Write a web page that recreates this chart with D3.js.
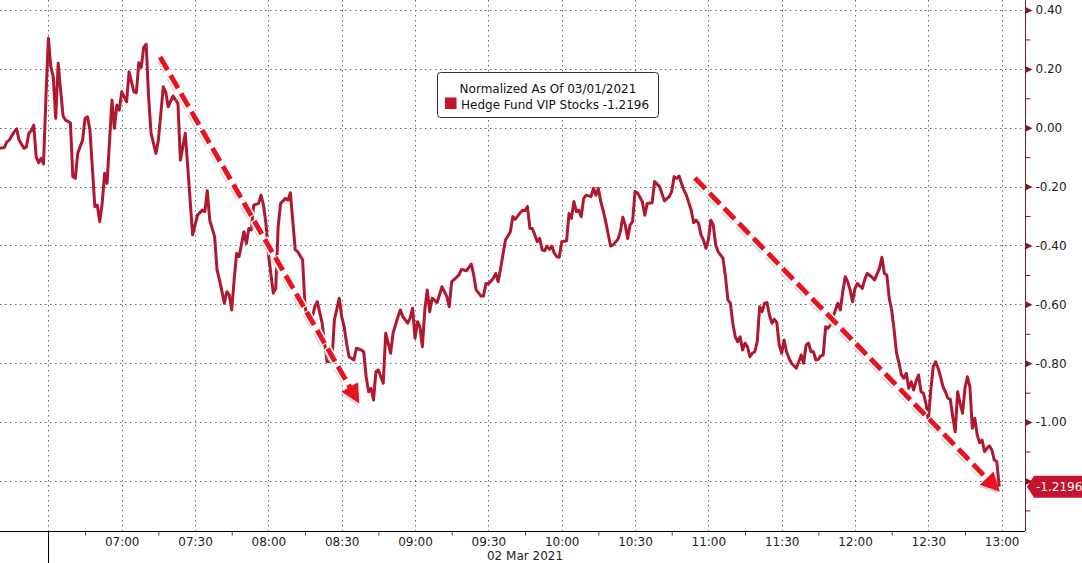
<!DOCTYPE html>
<html><head><meta charset="utf-8">
<script src="https://cdn.jsdelivr.net/npm/d3@7"></script>
<style>
body{margin:0;background:#fff}
svg{display:block;font-family:"DejaVu Sans",sans-serif}
</style>
</head><body>
<svg id="c" width="1082" height="563"></svg>
<script>
// ---- data (02 Mar 2021, intraday, normalized as of 03/01/2021) ----
const times = [
"06:10","06:12","06:13","06:14","06:16","06:17","06:18","06:20","06:21","06:22","06:23","06:24","06:25","06:26","06:27","06:28","06:29","06:30","06:31","06:32","06:33","06:34","06:35","06:36","06:37","06:39","06:40","06:41","06:42","06:44","06:45","06:46","06:47","06:49","06:50","06:51","06:52","06:53","06:54","06:56","06:57","06:58","06:59",
"07:00","07:02","07:03","07:05","07:06","07:07","07:08","07:09","07:10","07:11","07:12","07:14","07:15","07:17","07:18","07:19","07:21","07:23","07:24","07:26","07:27","07:29","07:31","07:33","07:34","07:35","07:36","07:38","07:39","07:40","07:42","07:43","07:44","07:45","07:46","07:47","07:48","07:50","07:51","07:52","07:53","07:54","07:56","07:57","07:58","07:59",
"08:00","08:02","08:03","08:04","08:05","08:07","08:08","08:09","08:10","08:11","08:12","08:14","08:15","08:16","08:18","08:19","08:20","08:22","08:23","08:24","08:26","08:27","08:29","08:30","08:31","08:32","08:33","08:35","08:36","08:38","08:39","08:40","08:41","08:42","08:43","08:44","08:45","08:47","08:48","08:50","08:51","08:53","08:54","08:55","08:57","08:58","08:59",
"09:00","09:01","09:02","09:03","09:04","09:05","09:06","09:07","09:09","09:10","09:11","09:13","09:14","09:15","09:17","09:18","09:19","09:21","09:23","09:24","09:25","09:27","09:28","09:29","09:30","09:32","09:33","09:34","09:35","09:37","09:38","09:39","09:40","09:41","09:43","09:44","09:45","09:46","09:47","09:48","09:49","09:50","09:51","09:52","09:53","09:54","09:55","09:56","09:57","09:58","09:59",
"10:00","10:02","10:03","10:04","10:05","10:06","10:07","10:08","10:09","10:10","10:12","10:13","10:14","10:15","10:16","10:17","10:18","10:20","10:21","10:23","10:24","10:25","10:26","10:27","10:28","10:29","10:30","10:31","10:33","10:34","10:35","10:37","10:38","10:40","10:41","10:42","10:44","10:45","10:46","10:47","10:48","10:49","10:50","10:51","10:53","10:54","10:55","10:56","10:57","10:58","10:59",
"11:00","11:01","11:02","11:03","11:04","11:06","11:07","11:08","11:09","11:10","11:11","11:12","11:13","11:14","11:15","11:16","11:17","11:18","11:19","11:20","11:21","11:22","11:23","11:24","11:25","11:26","11:27","11:28","11:29","11:30","11:31","11:32","11:33","11:34","11:36","11:37","11:38","11:39","11:40","11:41","11:42","11:43","11:44","11:45","11:46","11:47","11:48","11:49","11:50","11:51","11:53","11:54","11:55","11:56","11:57","11:58","11:59",
"12:00","12:01","12:03","12:04","12:05","12:07","12:08","12:10","12:11","12:12","12:13","12:14","12:15","12:16","12:17","12:18","12:19","12:20","12:21","12:22","12:23","12:24","12:25","12:26","12:27","12:28","12:29","12:30","12:31","12:32","12:33","12:34","12:35","12:36","12:37","12:38","12:39","12:40","12:41","12:42","12:43","12:44","12:45","12:46","12:47","12:48","12:49","12:50","12:51","12:52","12:53","12:54","12:55","12:56","12:57","12:58","12:59"
];
const values = [
-0.070,-0.067,-0.048,-0.042,-0.014,-0.004,-0.042,-0.070,-0.065,-0.019,-0.010,0.009,-0.099,-0.119,-0.104,-0.123,0.105,0.304,0.207,0.173,0.032,0.219,0.128,0.040,0.026,0.017,-0.166,-0.172,-0.087,-0.042,0.032,0.037,-0.008,-0.268,-0.263,-0.319,-0.257,-0.155,-0.189,0.094,-0.002,0.077,0.060,
0.122,0.088,0.190,0.122,0.119,0.221,0.205,0.273,0.284,0.105,-0.019,-0.087,-0.042,0.139,0.122,0.071,0.108,0.083,-0.110,-0.019,-0.132,-0.364,-0.297,-0.280,-0.285,-0.214,-0.314,-0.370,-0.483,-0.517,-0.596,-0.557,-0.568,-0.619,-0.517,-0.427,-0.438,-0.353,-0.393,-0.342,-0.347,-0.263,-0.257,-0.229,-0.263,-0.325,
-0.427,-0.562,-0.546,-0.336,-0.257,-0.240,-0.246,-0.221,-0.319,-0.415,-0.421,-0.449,-0.608,-0.647,-0.642,-0.608,-0.591,-0.664,-0.732,-0.795,-0.795,-0.653,-0.579,-0.642,-0.676,-0.732,-0.778,-0.789,-0.749,-0.755,-0.761,-0.846,-0.897,-0.885,-0.925,-0.829,-0.823,-0.868,-0.698,-0.766,-0.698,-0.642,-0.619,-0.642,-0.664,-0.647,-0.613,
-0.715,-0.659,-0.676,-0.744,-0.619,-0.551,-0.625,-0.579,-0.594,-0.568,-0.540,-0.574,-0.608,-0.523,-0.508,-0.500,-0.481,-0.486,-0.463,-0.500,-0.551,-0.572,-0.572,-0.529,-0.531,-0.512,-0.495,-0.523,-0.478,-0.381,-0.368,-0.353,-0.302,-0.311,-0.289,-0.280,-0.282,-0.268,-0.342,-0.342,-0.364,-0.387,-0.376,-0.415,-0.418,-0.402,-0.413,-0.402,-0.427,-0.438,-0.440,
-0.387,-0.384,-0.291,-0.308,-0.251,-0.285,-0.280,-0.302,-0.240,-0.229,-0.234,-0.206,-0.229,-0.206,-0.251,-0.282,-0.319,-0.402,-0.398,-0.379,-0.353,-0.304,-0.330,-0.376,-0.330,-0.319,-0.217,-0.221,-0.251,-0.297,-0.257,-0.255,-0.183,-0.200,-0.223,-0.248,-0.234,-0.217,-0.166,-0.172,-0.164,-0.189,-0.212,-0.229,-0.280,-0.323,-0.314,-0.325,-0.364,-0.381,-0.410,
-0.381,-0.314,-0.330,-0.398,-0.421,-0.444,-0.506,-0.585,-0.596,-0.664,-0.710,-0.727,-0.710,-0.755,-0.732,-0.744,-0.778,-0.766,-0.761,-0.727,-0.608,-0.625,-0.596,-0.594,-0.636,-0.664,-0.651,-0.662,-0.738,-0.766,-0.721,-0.761,-0.783,-0.800,-0.817,-0.795,-0.772,-0.800,-0.738,-0.732,-0.761,-0.761,-0.789,-0.787,-0.775,-0.772,-0.676,-0.681,-0.670,-0.642,-0.596,-0.619,-0.557,-0.506,-0.523,-0.551,-0.591,
-0.546,-0.529,-0.546,-0.515,-0.495,-0.508,-0.517,-0.478,-0.440,-0.495,-0.500,-0.579,-0.619,-0.687,-0.766,-0.800,-0.840,-0.851,-0.834,-0.885,-0.863,-0.891,-0.860,-0.840,-0.897,-0.902,-0.936,-0.993,-0.891,-0.812,-0.795,-0.817,-0.846,-0.880,-0.897,-0.919,-0.923,-0.982,-1.033,-0.897,-0.936,-0.970,-0.885,-0.846,-0.880,-1.021,-0.987,-1.044,-1.070,-1.061,-1.100,-1.089,-1.081,-1.095,-1.129,-1.134,-1.2196
];
const seriesName = "Hedge Fund VIP Stocks";
const lastValue = -1.2196;
const legendTitle = "Normalized As Of 03/01/2021";
const dateLabel = "02 Mar 2021";
const yTicks = [0.40, 0.20, 0.00, -0.20, -0.40, -0.60, -0.80, -1.00, -1.20];
const yMinorTicks = [0.30, 0.10, -0.10, -0.30, -0.50, -0.70, -0.90, -1.10, -1.30];
const xTickLabels = ["07:00","07:30","08:00","08:30","09:00","09:30","10:00","10:30","11:00","11:30","12:00","12:30","13:00"];
const xGridTimes = ["06:30"].concat(xTickLabels);
const xMinorTicks = ["06:45","07:15","07:45","08:15","08:45","09:15","09:45","10:15","10:45","11:15","11:45","12:15","12:45"];
const sessionStart = "06:30";
const arrowStarts = [["07:15:42", 0.240], ["10:54:30", -0.171]];
const arrowEnds   = [["08:37:12", -0.937], ["12:59:18", -1.237]];

// ---- setup ----
const W = 1082, H = 563;
const plotRight = 1025, plotBottom = 531;
const parse = d3.timeParse("%H:%M:%S");
const toDate = s => parse(s.length === 5 ? s + ":00" : s);
const x = d3.scaleTime().domain([toDate("06:10:12"), toDate("13:09:33")]).range([0, plotRight]);
const y = d3.scaleLinear().domain([-1.37, 0.434]).range([plotBottom, 0]);
const data = times.map((t, i) => ({t: toDate(t), v: values[i]}));

const svg = d3.select("#c");
const axisCol = "#7d1c2c";
const lineCol = "#b0182f";
const tagY = y(lastValue);

// grid
const grid = svg.append("g").attr("stroke", "#6a6a6a").attr("stroke-width", 1).attr("stroke-dasharray", "1.5,3.5");
grid.selectAll("line.h").data(yTicks).join("line")
  .attr("x1", 0).attr("x2", plotRight)
  .attr("y1", d => Math.round(y(d)) + 0.5).attr("y2", d => Math.round(y(d)) + 0.5);
grid.selectAll("line.v").data(xGridTimes).join("line")
  .attr("x1", d => Math.round(x(toDate(d))) + 0.5).attr("x2", d => Math.round(x(toDate(d))) + 0.5)
  .attr("y1", 0).attr("y2", plotBottom);

// bottom axis
const xAxis = svg.append("g").attr("transform", `translate(0,${plotBottom + 0.5})`)
  .call(d3.axisBottom(x).tickValues(xTickLabels.map(toDate)).tickFormat(d3.timeFormat("%H:%M")).tickSize(0).tickPadding(6));
xAxis.select(".domain").attr("stroke", "#000").attr("d", `M0,0H${plotRight}`);
xAxis.selectAll("text").attr("font-size", 12).attr("fill", "#222").attr("font-family", "DejaVu Sans");
const xMinor = svg.append("g").attr("transform", `translate(0,${plotBottom + 0.5})`)
  .call(d3.axisBottom(x).tickValues(xMinorTicks.map(toDate)).tickSize(4).tickFormat(""));
xMinor.select(".domain").remove();
xMinor.selectAll("line").attr("stroke", "#444");

// session start separator
svg.append("line")
  .attr("x1", Math.round(x(toDate(sessionStart))) + 0.5).attr("x2", Math.round(x(toDate(sessionStart))) + 0.5)
  .attr("y1", plotBottom).attr("y2", H).attr("stroke", "#000").attr("stroke-width", 1);

// date label
svg.append("text").attr("x", x(toDate("09:45"))).attr("y", 560).attr("text-anchor", "middle")
  .attr("font-size", 12).attr("fill", "#222").text(dateLabel);

// right axis (labels hidden where the last-value tag sits on top of them)
const fmt = d => Math.abs(y(d) - tagY) < 14 ? "" : d.toFixed(2);
const yAxis = svg.append("g").attr("transform", `translate(${plotRight + 0.5},0)`)
  .call(d3.axisRight(y).tickValues(yTicks).tickSize(0).tickPadding(10).tickFormat(fmt));
yAxis.select(".domain").attr("stroke", axisCol).attr("d", `M0,0V${plotBottom}`);
yAxis.selectAll("text").attr("font-size", 12).attr("fill", "#222").attr("font-family", "DejaVu Sans");
yAxis.selectAll(".tick").append("path").attr("d", "M0,-3.5L7,0L0,3.5Z").attr("fill", axisCol);
const yMinor = svg.append("g").attr("transform", `translate(${plotRight + 0.5},0)`)
  .call(d3.axisRight(y).tickValues(yMinorTicks).tickSize(5).tickFormat(""));
yMinor.select(".domain").remove();
yMinor.selectAll("line").attr("stroke", axisCol);

// series line
const line = d3.line().x(d => x(d.t)).y(d => y(d.v));
svg.append("path").datum(data).attr("d", line).attr("fill", "none")
  .attr("stroke", lineCol).attr("stroke-width", 3).attr("stroke-linejoin", "round");

// arrows
function drawArrow(p0, p1) {
  const x0 = x(toDate(p0[0])), y0 = y(p0[1]), x1 = x(toDate(p1[0])), y1 = y(p1[1]);
  const dx = x1 - x0, dy = y1 - y0, L = Math.hypot(dx, dy), ux = dx / L, uy = dy / L;
  const head = 19, hw = 9.5;
  const bx = x1 - ux * head, by = y1 - uy * head;
  const g = svg.append("g");
  const dash = "15,6";
  g.append("line").attr("x1", x0 - 1.5).attr("y1", y0 + 2).attr("x2", bx - 1.5).attr("y2", by + 2)
    .attr("stroke", "#c8c8c8").attr("stroke-width", 6).attr("stroke-dasharray", dash).attr("opacity", 0.7);
  g.append("line").attr("x1", x0).attr("y1", y0).attr("x2", bx).attr("y2", by)
    .attr("stroke", "#fff").attr("stroke-width", 8).attr("stroke-dasharray", "17,4").attr("stroke-dashoffset", 1);
  g.append("line").attr("x1", x0).attr("y1", y0).attr("x2", bx + ux * 2).attr("y2", by + uy * 2)
    .attr("stroke", "#e8131f").attr("stroke-width", 5).attr("stroke-dasharray", dash);
  const px = -uy, py = ux;
  const tri = `M${x1},${y1}L${bx + px * hw},${by + py * hw}L${bx - px * hw},${by - py * hw}Z`;
  g.append("path").attr("d", tri).attr("transform", "translate(-1.5,2)").attr("fill", "#c8c8c8").attr("opacity", 0.7);
  g.append("path").attr("d", tri).attr("fill", "#e8131f");
}
arrowStarts.forEach((s, i) => drawArrow(s, arrowEnds[i]));

// last value tag
svg.append("path")
  .attr("d", `M${plotRight + 2},${tagY}L${plotRight + 9},${tagY - 11}H${W}V${tagY + 11}H${plotRight + 9}Z`)
  .attr("fill", "#c4122f");
svg.append("text").attr("x", plotRight + 11).attr("y", tagY + 4.5).attr("font-size", 12).attr("fill", "#fff")
  .text(lastValue.toFixed(4));

// legend
const lg = svg.append("g");
lg.append("rect").attr("x", 437.5).attr("y", 72.5).attr("width", 221).attr("height", 45).attr("rx", 3)
  .attr("fill", "#fff").attr("stroke", "#333");
lg.append("text").attr("x", 548).attr("y", 92.5).attr("text-anchor", "middle").attr("font-size", 12).attr("fill", "#111")
  .text(legendTitle);
lg.append("rect").attr("x", 445).attr("y", 97.5).attr("width", 11.5).attr("height", 11.5).attr("fill", "#c4122f");
lg.append("text").attr("x", 461).attr("y", 108.5).attr("font-size", 12).attr("fill", "#111")
  .text(`${seriesName} ${lastValue.toFixed(4)}`);
</script>
</body></html>
